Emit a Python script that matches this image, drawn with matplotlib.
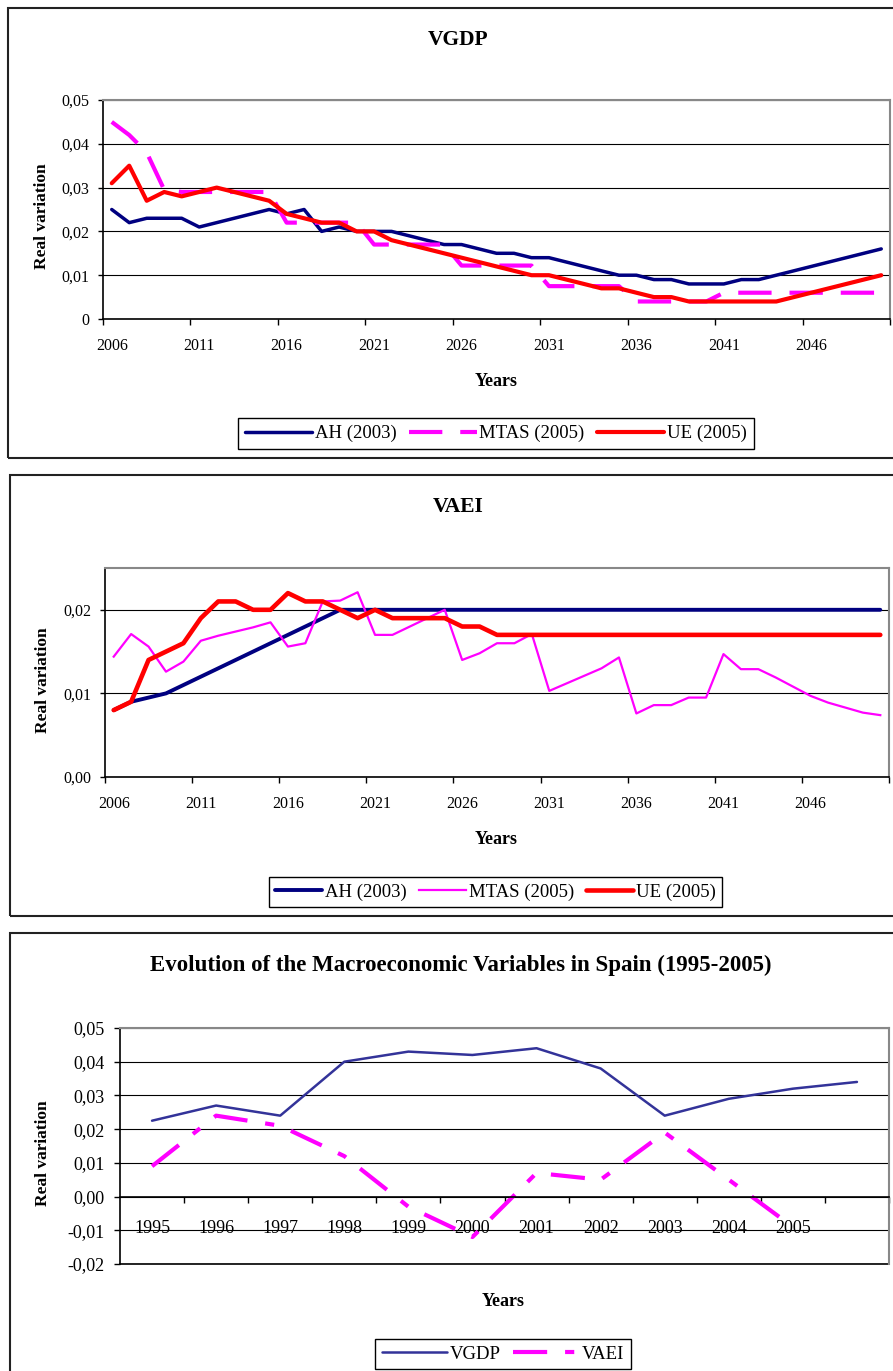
import numpy as np
import matplotlib
matplotlib.use("Agg")
import matplotlib.pyplot as plt
from matplotlib.patches import Rectangle

plt.rcParams['font.family'] = ['Liberation Serif', 'DejaVu Serif']

# projection years (categories)
years_proj = list(range(2006, 2051))

# VGDP scenarios
vgdp_ah = [0.025, 0.022, 0.023, 0.023, 0.023, 0.021, 0.022, 0.023, 0.024, 0.025,
           0.024, 0.025, 0.020, 0.021, 0.020, 0.020, 0.020, 0.019, 0.018, 0.017,
           0.017, 0.016, 0.015, 0.015, 0.014, 0.014, 0.013, 0.012, 0.011, 0.010,
           0.010, 0.009, 0.009, 0.008, 0.008, 0.008, 0.009, 0.009, 0.010, 0.011,
           0.012, 0.013, 0.014, 0.015, 0.016]
vgdp_mtas = [0.045, 0.042, 0.038, 0.0295, 0.029, 0.029, 0.029, 0.029, 0.029, 0.029,
             0.022, 0.022, 0.022, 0.022, 0.022, 0.017, 0.017, 0.017, 0.017, 0.017,
             0.0122, 0.0122, 0.0122, 0.0122, 0.0122, 0.0075, 0.0075, 0.0075, 0.0075, 0.0075,
             0.004, 0.004, 0.004, 0.004, 0.004, 0.006, 0.006, 0.006, 0.006, 0.006,
             0.006, 0.006, 0.006, 0.006, 0.006]
vgdp_ue = [0.031, 0.035, 0.027, 0.029, 0.028, 0.029, 0.030, 0.029, 0.028, 0.027,
           0.024, 0.023, 0.022, 0.022, 0.020, 0.020, 0.018, 0.017, 0.016, 0.015,
           0.014, 0.013, 0.012, 0.011, 0.010, 0.010, 0.009, 0.008, 0.007, 0.007,
           0.006, 0.005, 0.005, 0.004, 0.004, 0.004, 0.004, 0.004, 0.004, 0.005,
           0.006, 0.007, 0.008, 0.009, 0.010]

# VAEI scenarios
vaei_ah = [0.008, 0.009, 0.0095, 0.010, 0.011, 0.012, 0.013, 0.014, 0.015, 0.016,
           0.017, 0.018, 0.019, 0.020, 0.020, 0.020, 0.020, 0.020, 0.020, 0.020,
           0.020, 0.020, 0.020, 0.020, 0.020, 0.020, 0.020, 0.020, 0.020, 0.020,
           0.020, 0.020, 0.020, 0.020, 0.020, 0.020, 0.020, 0.020, 0.020, 0.020,
           0.020, 0.020, 0.020, 0.020, 0.020]
vaei_mtas = [0.0144, 0.0171, 0.0156, 0.0126, 0.0138, 0.0163, 0.0169, 0.0174, 0.0179, 0.0185,
             0.0156, 0.0160, 0.0210, 0.0211, 0.0221, 0.0170, 0.0170, 0.0180, 0.0190, 0.0200,
             0.0140, 0.0148, 0.0160, 0.0160, 0.0171, 0.0103, 0.0112, 0.0121, 0.0130, 0.0143,
             0.0076, 0.0086, 0.0086, 0.0095, 0.0095, 0.0147, 0.0129, 0.0129, 0.0119, 0.0108,
             0.0097, 0.0089, 0.0083, 0.0077, 0.0074]
vaei_ue = [0.008, 0.009, 0.014, 0.015, 0.016, 0.019, 0.021, 0.021, 0.020, 0.020,
           0.022, 0.021, 0.021, 0.020, 0.019, 0.020, 0.019, 0.019, 0.019, 0.019,
           0.018, 0.018, 0.017, 0.017, 0.017, 0.017, 0.017, 0.017, 0.017, 0.017,
           0.017, 0.017, 0.017, 0.017, 0.017, 0.017, 0.017, 0.017, 0.017, 0.017,
           0.017, 0.017, 0.017, 0.017, 0.017]

# history 1995-2005
hist_labels = ['1995', '1996', '1997', '1998', '1999', '2000',
               '2001', '2002', '2003', '2004', '2005', '']
hist_vgdp = [0.0225, 0.027, 0.024, 0.040, 0.043, 0.042,
             0.044, 0.038, 0.024, 0.029, 0.032, 0.034]
hist_vaei = [0.009, 0.024, 0.021, 0.012, -0.003, -0.012,
             0.007, 0.005, 0.019, 0.005, -0.009, np.nan]

W, H = 893, 1371
fig = plt.figure(figsize=(W / 100, H / 100), dpi=100)


def box(x0, y0, x1, y1):
    return [x0 / W, 1 - y1 / H, (x1 - x0) / W, (y1 - y0) / H]


def frame(x0, y0, x1, y1):
    fig.patches.append(Rectangle((x0 / W, 1 - y1 / H), (x1 - x0) / W, (y1 - y0) / H,
                                 transform=fig.transFigure, fill=False,
                                 ec='#222222', lw=1.5))


def style_axes(ax, size=11.5):
    ax.set_axisbelow(True)
    ax.grid(axis='y', color='black', lw=0.8)
    for s in ('top', 'right'):
        ax.spines[s].set_color('#888888')
        ax.spines[s].set_linewidth(1.5)
    ax.spines['left'].set_linewidth(1.2)
    ax.spines['bottom'].set_linewidth(1.2)
    ax.tick_params(axis='y', direction='out', length=3.6, width=1, pad=6, labelsize=size)
    ax.tick_params(axis='x', which='major', direction='out', length=4, width=1)


def fig_text(x, y, s, **kw):
    fig.text(x / W, 1 - y / H, s, ha='center', va='center', **kw)


def legend(handles, cx, cy, hl, size=13.5):
    leg = fig.legend(handles=handles, loc='center', bbox_to_anchor=(cx / W, 1 - cy / H),
                     bbox_transform=fig.transFigure, ncol=len(handles), fontsize=size,
                     frameon=True, fancybox=False, edgecolor='black', framealpha=1,
                     handlelength=hl, handletextpad=0.15, columnspacing=0.65,
                     borderpad=0.35)
    leg.get_frame().set_linewidth(1.0)


x = np.arange(len(years_proj))
year_ticks = x[::5]
year_labels = [str(years_proj[i]) for i in year_ticks]

# ---- VGDP ----
frame(8, 8, 900, 458)
ax1 = fig.add_axes(box(103, 100, 890, 319))
l1, = ax1.plot(x, vgdp_ah, color='#000080', lw=2.5, solid_joinstyle='round',
               solid_capstyle='round', label='AH (2003)')
l2, = ax1.plot(x, vgdp_mtas, color='#FF00FF', lw=3, ls=(0, (8, 4.3)), label='MTAS (2005)')
l3, = ax1.plot(x, vgdp_ue, color='#FF0000', lw=3, solid_joinstyle='round',
               solid_capstyle='round', label='UE (2005)')
ax1.set_xlim(-0.5, 44.5)
ax1.set_ylim(0, 0.05)
ax1.set_yticks(np.arange(0, 0.051, 0.01))
ax1.set_yticklabels(['0', '0,01', '0,02', '0,03', '0,04', '0,05'])
ax1.set_xticks(np.arange(-0.5, 45, 5))
ax1.set_xticklabels([])
ax1.set_xticks(year_ticks, minor=True)
ax1.set_xticklabels(year_labels, minor=True)
ax1.tick_params(axis='x', which='minor', length=0, pad=14, labelsize=11.5)
style_axes(ax1)
fig_text(458, 40, 'VGDP', fontsize=15.5, fontweight='bold')
fig_text(496, 381, 'Years', fontsize=13, fontweight='bold')
fig_text(42, 216, 'Real variation', fontsize=12.5, fontweight='bold', rotation=90)
legend([l1, l2, l3], 496, 433.5, 3.6)

# ---- VAEI ----
frame(10, 475, 900, 916)
ax2 = fig.add_axes(box(105, 568, 889, 777))
m1, = ax2.plot(x, vaei_ah, color='#000080', lw=2.8, solid_joinstyle='round',
               solid_capstyle='round', label='AH (2003)')
m2, = ax2.plot(x, vaei_mtas, color='#FF00FF', lw=1.6, label='MTAS (2005)')
m3, = ax2.plot(x, vaei_ue, color='#FF0000', lw=3.3, solid_joinstyle='round',
               solid_capstyle='round', label='UE (2005)')
ax2.set_xlim(-0.5, 44.5)
ax2.set_ylim(0, 0.025)
ax2.set_yticks([0, 0.01, 0.02])
ax2.set_yticklabels(['0,00', '0,01', '0,02'])
ax2.set_xticks(np.arange(-0.5, 45, 5))
ax2.set_xticklabels([])
ax2.set_xticks(year_ticks, minor=True)
ax2.set_xticklabels(year_labels, minor=True)
ax2.tick_params(axis='x', which='minor', length=0, pad=14, labelsize=11.5)
style_axes(ax2)
fig_text(458, 507, 'VAEI', fontsize=15.5, fontweight='bold')
fig_text(496, 839, 'Years', fontsize=13, fontweight='bold')
fig_text(43, 680, 'Real variation', fontsize=12.5, fontweight='bold', rotation=90)
legend([m1, m2, m3], 495.5, 892, 2.5)

# ---- history ----
frame(10, 933, 900, 1400)
ax3 = fig.add_axes(box(120, 1028, 889, 1264))
hx = np.arange(len(hist_labels))
n1, = ax3.plot(hx, hist_vgdp, color='#333399', lw=1.8, solid_joinstyle='round',
               solid_capstyle='round', label='VGDP')
n2, = ax3.plot(hx, hist_vaei, color='#FF00FF', lw=3, ls=(0, (8.2, 4.3, 2.2, 4.3)),
               label='VAEI')
ax3.set_xlim(-0.5, len(hist_labels) - 0.5)
ax3.set_ylim(-0.02, 0.05)
ax3.set_yticks(np.arange(-0.02, 0.051, 0.01))
ax3.set_yticklabels(['-0,02', '-0,01', '0,00', '0,01', '0,02', '0,03', '0,04', '0,05'])
ax3.spines['bottom'].set_position(('data', 0))
ax3.axhline(-0.02, color='black', lw=1.2, clip_on=False, zorder=0.5)
ax3.set_xticks(np.arange(0.5, len(hist_labels), 1))
ax3.set_xticklabels([])
ax3.set_xticks(hx, minor=True)
ax3.set_xticklabels(hist_labels, minor=True)
ax3.tick_params(axis='x', which='minor', length=0, pad=17, labelsize=13)
style_axes(ax3, size=13)
ax3.tick_params(axis='y', length=4.3, pad=7)
fig_text(461, 965, 'Evolution of the Macroeconomic Variables in Spain (1995-2005)',
         fontsize=16.5, fontweight='bold')
fig_text(503, 1301, 'Years', fontsize=13, fontweight='bold')
fig_text(43, 1153, 'Real variation', fontsize=12.5, fontweight='bold', rotation=90)
legend([n1, n2], 503, 1354, 3.5)

fig.savefig('out.png', dpi=100)
